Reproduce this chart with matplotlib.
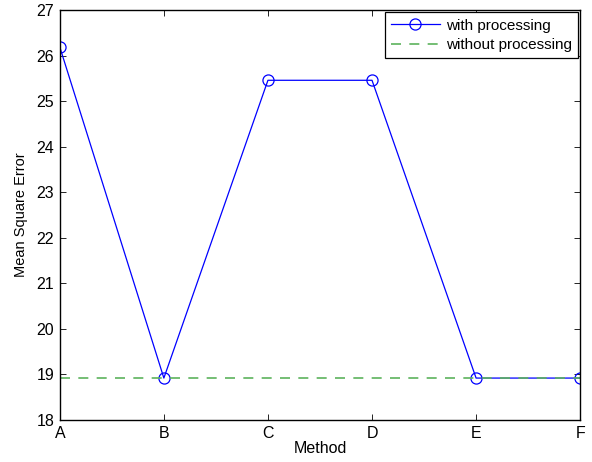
import matplotlib
matplotlib.use("Agg")
import matplotlib.pyplot as plt

# data
methods = ["A", "B", "C", "D", "E", "F"]
mse_with = [26.19, 18.92, 25.46, 25.46, 18.92, 18.92]
mse_without = 18.92

plt.rcParams['font.family'] = ['Liberation Sans', 'DejaVu Sans']
plt.rcParams['font.size'] = 11.5

fig = plt.figure(figsize=(5.92, 4.62), dpi=100)
ax = fig.add_axes([0.101, 0.091, 0.879, 0.887])

x = list(range(len(methods)))
ax.plot(x, mse_with, color='blue', linewidth=0.9, marker='o', markersize=8,
        markerfacecolor='none', markeredgecolor='blue', markeredgewidth=0.9,
        label='with processing')
ax.plot([x[0], x[-1]], [mse_without, mse_without], color='#5cb35c', linewidth=1.2,
        linestyle=(0, (6, 5)), label='without processing')

ax.set_xlim(0, len(methods) - 1)
ax.set_ylim(18, 27)
ax.set_xticks(x)
ax.set_xticklabels(methods)
ax.set_yticks(range(18, 28))
ax.tick_params(direction='in', top=True, right=True, length=4, width=0.6, pad=4)
for s in ax.spines.values():
    s.set_linewidth(1.0)

ax.set_xlabel('Method', labelpad=0)
ax.set_ylabel('Mean Square Error', fontsize=10.5, labelpad=6)

leg = ax.legend(loc='upper right', borderaxespad=0.15, fancybox=False, fontsize=11,
                edgecolor='black', framealpha=1, handlelength=3.2, borderpad=0.4,
                labelspacing=0.35, handletextpad=0.4)
leg.get_frame().set_linewidth(0.9)

fig.savefig('out.png', dpi=100)
